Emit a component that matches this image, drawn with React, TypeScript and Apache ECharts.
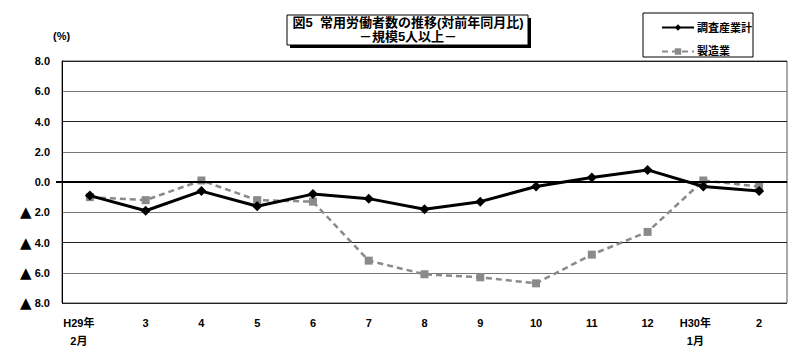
import React, { useEffect, useRef } from "react";
import * as echarts from "echarts";

const categories = ["H29年\n2月", "3", "4", "5", "6", "7", "8", "9", "10", "11", "12", "H30年\n1月", "2"];
const allIndustries = [-0.9, -1.9, -0.6, -1.6, -0.8, -1.1, -1.8, -1.3, -0.3, 0.3, 0.8, -0.3, -0.6];
const manufacturing = [-1.0, -1.2, 0.1, -1.2, -1.3, -5.2, -6.1, -6.3, -6.7, -4.8, -3.3, 0.1, -0.3];
const seriesNames = ["調査産業計", "製造業"];
const titleLines = ["図5  常用労働者数の推移(対前年同月比)", "－規模5人以上－"];
const unitLabel = "(%)";

const FONT = "'Liberation Sans', 'Noto Sans CJK JP', sans-serif";

export default function App() {
  const ref = useRef<HTMLDivElement>(null);
  useEffect(() => {
    if (!ref.current) return;
    const chart = echarts.init(ref.current, null, { renderer: "svg" });
    chart.setOption({
      animation: false,
      backgroundColor: "#ffffff",
      textStyle: { fontFamily: FONT },
      grid: { left: 62, right: 13, top: 61, bottom: 49, show: true, borderColor: "#555", borderWidth: 1 },
      legend: {
        orient: "vertical",
        left: 656,
        top: 17,
        itemWidth: 32,
        itemHeight: 8,
        itemGap: 13,
        textStyle: { fontSize: 11, fontWeight: "bold", color: "#000", fontFamily: FONT, padding: [0, 0, 0, -2] },
        data: seriesNames,
      },
      xAxis: {
        type: "category",
        data: categories,
        boundaryGap: true,
        axisLine: { show: true, lineStyle: { color: "#333" } },
        axisTick: { show: false },
        axisLabel: {
          fontSize: 11,
          fontWeight: "bold",
          color: "#000",
          margin: 11,
          lineHeight: 18,
          interval: 0,
          formatter: (v: string) => {
            if (v.indexOf("\n") >= 0) {
              const parts = v.split("\n");
              const style = v.startsWith("H29") ? "a" : "b";
              return parts.map((p) => "{" + style + "|" + p + "}").join("\n");
            }
            return v;
          },
          rich: {
            a: { fontSize: 11, fontWeight: "bold", color: "#000", lineHeight: 18, padding: [0, 22, 0, 0] },
            b: { fontSize: 11, fontWeight: "bold", color: "#000", lineHeight: 18, padding: [0, 16, 0, 0] },
          },
        },
        splitLine: { show: false },
      },
      yAxis: {
        type: "value",
        min: -8,
        max: 8,
        interval: 2,
        axisLine: { show: true, lineStyle: { color: "#000" } },
        axisTick: { show: false },
        axisLabel: {
          fontSize: 11,
          fontWeight: "bold",
          color: "#000",
          margin: 12,
          formatter: (v: number) => (v < 0 ? "{t|▲} " + Math.abs(v).toFixed(1) : v.toFixed(1)),
          rich: {
            t: { fontSize: 15, color: "#000", fontFamily: "'DejaVu Sans', sans-serif" },
          },
        },
        splitLine: { show: true, lineStyle: { color: ["#222", "#777", "#222", "#777"], width: 1 } },
      },
      series: [
        {
          name: seriesNames[0],
          type: "line",
          data: allIndustries,
          symbol: "diamond",
          symbolSize: 10,
          lineStyle: { color: "#000", width: 3 },
          itemStyle: { color: "#000" },
          z: 3,
          markLine: {
            silent: true,
            symbol: "none",
            label: { show: false },
            lineStyle: { color: "#000", width: 2, type: "solid" },
            data: [{ yAxis: 0 }],
          },
        },
        {
          name: seriesNames[1],
          type: "line",
          data: manufacturing,
          symbol: "rect",
          symbolSize: 8,
          lineStyle: { color: "#8a8a8a", width: 2.5, type: [6, 4] },
          itemStyle: { color: "#8a8a8a" },
          z: 2,
        },
      ],
      graphic: [
        { type: "text", left: 53, top: 30, style: { text: unitLabel, fontSize: 11, fontWeight: "bold", fill: "#000", fontFamily: FONT } },
        { type: "line", shape: { x1: 56, y1: 182, x2: 62, y2: 182 }, style: { stroke: "#000", lineWidth: 2 } },
        { type: "rect", shape: { x: 290, y: 18, width: 241, height: 30 }, style: { fill: "#000" } },
        { type: "rect", shape: { x: 287, y: 15, width: 241, height: 30 }, style: { fill: "#fff", stroke: "#000", lineWidth: 1 } },
        { type: "text", x: 408, y: 16, style: { text: titleLines[0], fontSize: 13, fontWeight: "bold", fill: "#000", align: "center", fontFamily: FONT } },
        { type: "text", x: 408, y: 30, style: { text: titleLines[1], fontSize: 13, fontWeight: "bold", fill: "#000", align: "center", fontFamily: FONT } },
        { type: "rect", shape: { x: 643, y: 13, width: 110, height: 44 }, style: { fill: "none", stroke: "#000", lineWidth: 1 } },
      ],
    });
    return () => chart.dispose();
  }, []);
  return <div ref={ref} style={{ width: 800, height: 352, position: "absolute", left: 0, top: 0 }} />;
}
